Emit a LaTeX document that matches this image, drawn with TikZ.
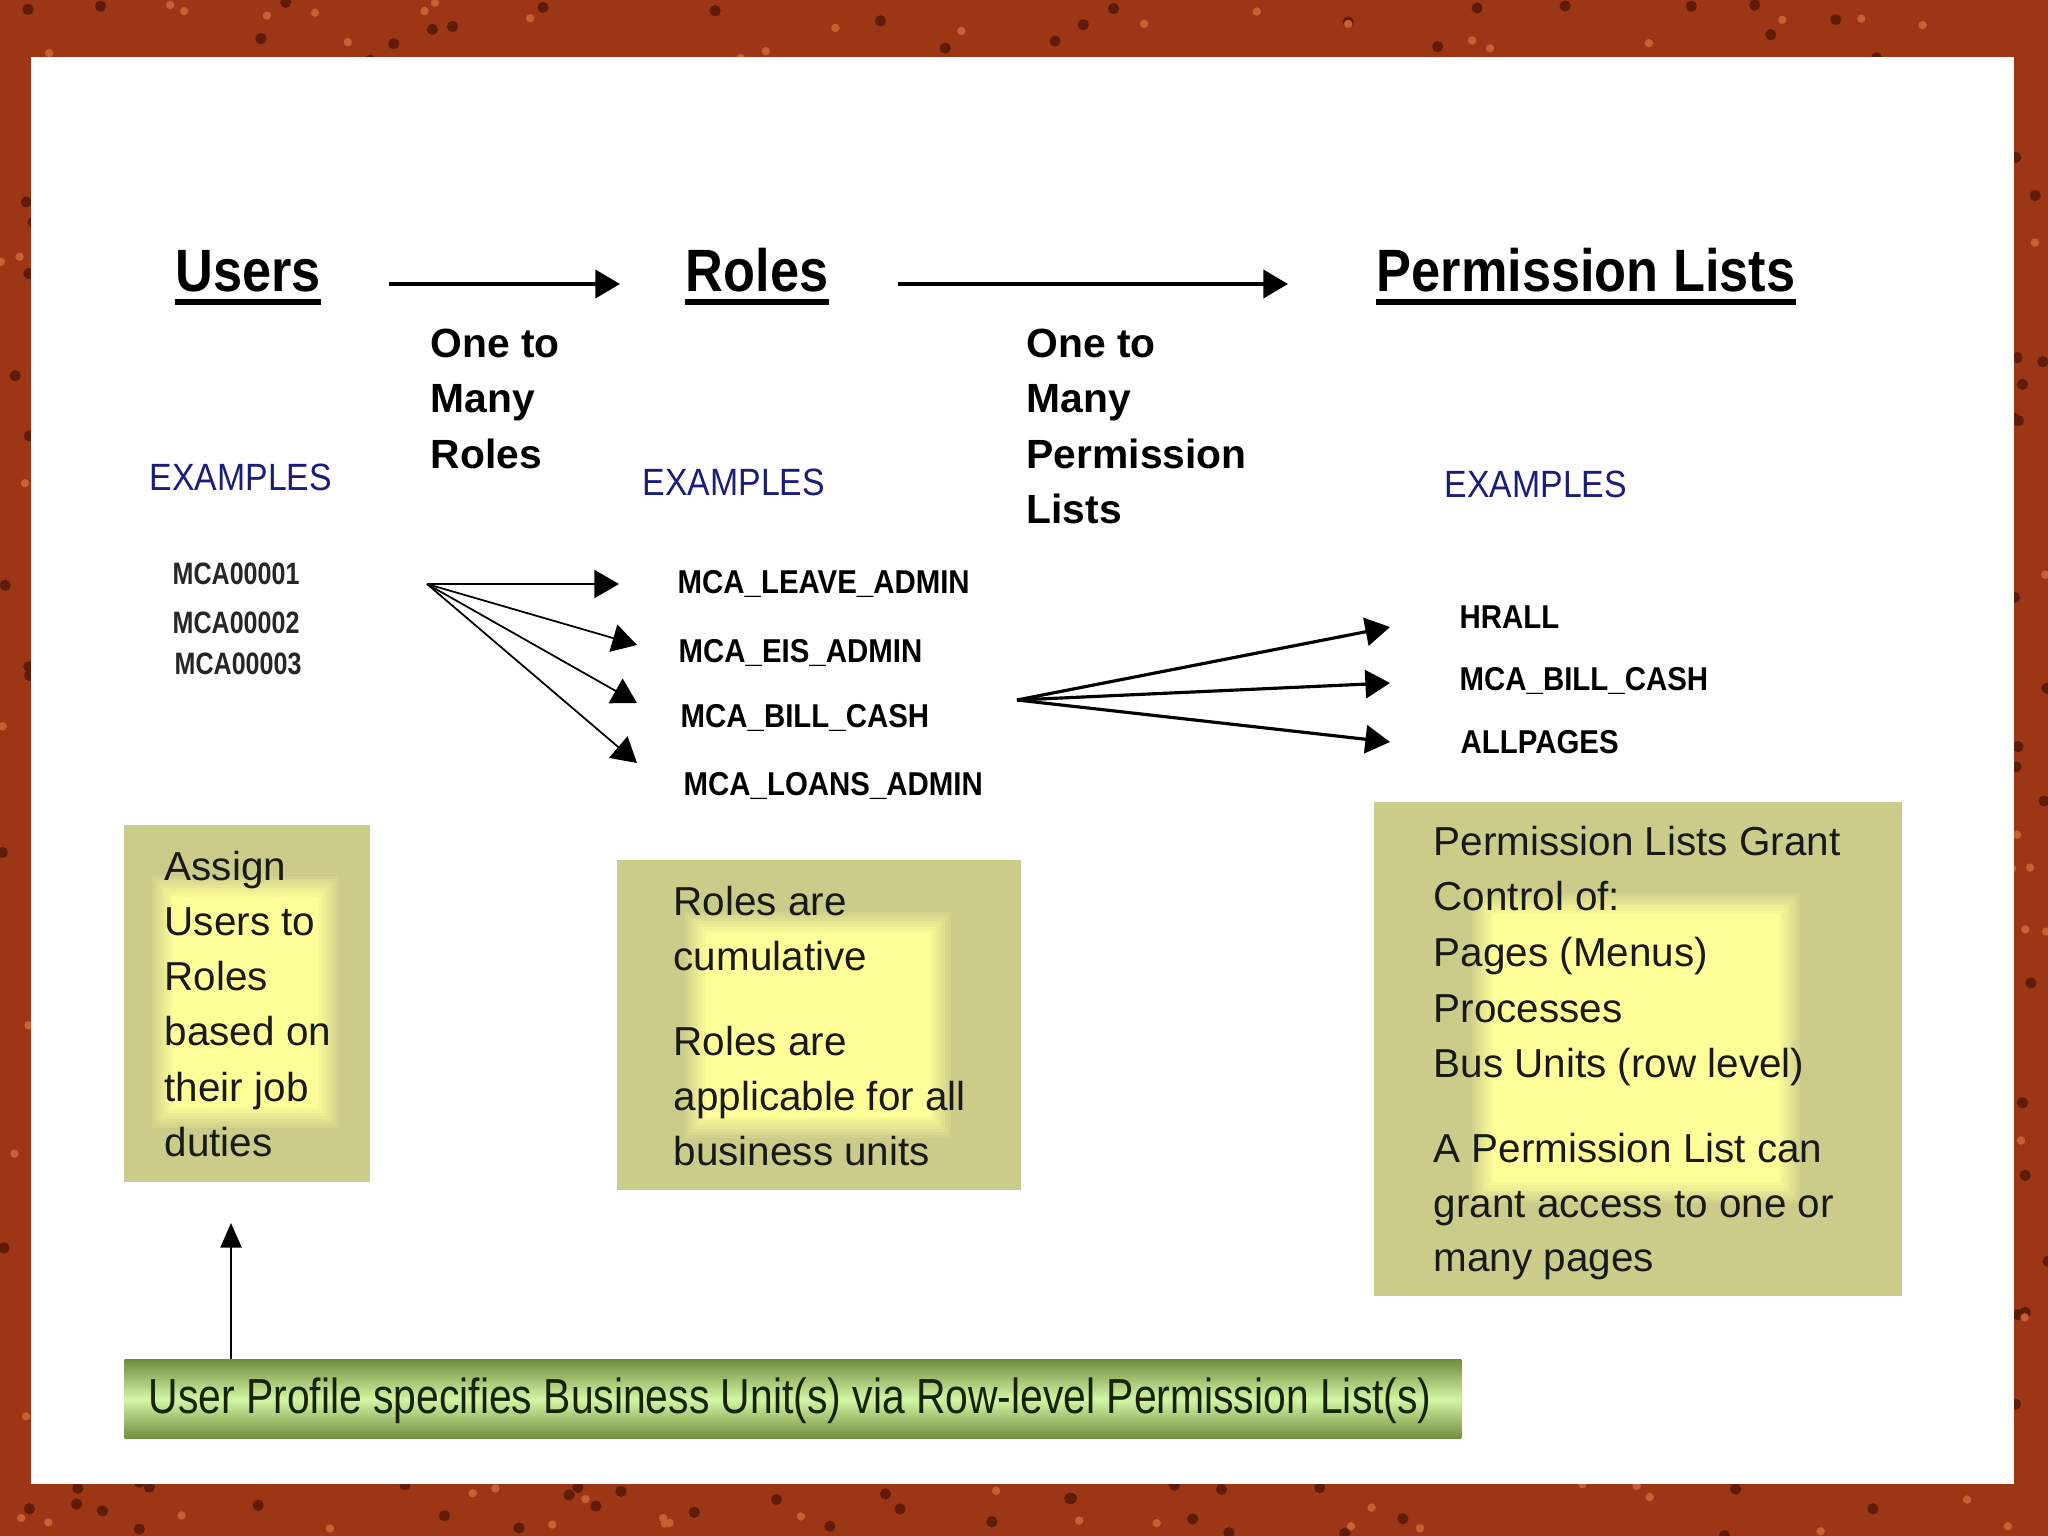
\documentclass[tikz,border=0pt]{standalone}
\usepackage{fontspec}
\setmainfont{Liberation Sans}
\newfontfamily\headfont[FakeStretch=0.875]{Liberation Sans}
\newfontfamily\exfont[FakeStretch=0.89]{Liberation Sans}
\newfontfamily\idfont[FakeStretch=0.81]{Liberation Sans}
\newfontfamily\namefont[FakeStretch=0.89]{Liberation Sans}
\newfontfamily\barfont[FakeStretch=0.83]{Liberation Sans}
\usetikzlibrary{arrows.meta, calc}

\definecolor{rust}{RGB}{156,54,20}
\definecolor{rustdark}{RGB}{96,28,10}
\definecolor{rustlight}{RGB}{200,96,52}
\definecolor{exblue}{RGB}{28,28,122}
\definecolor{boxolive}{RGB}{204,204,138}
\definecolor{boxcore}{RGB}{255,255,153}
\definecolor{bardark}{RGB}{112,140,62}
\definecolor{barlight}{RGB}{212,246,164}
\definecolor{bartextcol}{RGB}{20,35,10}

\tikzset{
  heading/.style={inner sep=0pt, anchor=base, font=\headfont\bfseries\fontsize{17}{20}\selectfont},
  uline/.style={line width=1.7pt},
  manylabel/.style={inner sep=0pt, anchor=base west, font=\bfseries\fontsize{11.6}{14}\selectfont},
  exlabel/.style={inner sep=0pt, anchor=base west, text=exblue, font=\exfont\fontsize{10.8}{13}\selectfont},
  idlabel/.style={inner sep=0pt, anchor=base west, text=black!85, font=\idfont\bfseries\fontsize{8.8}{10}\selectfont},
  namelabel/.style={inner sep=0pt, anchor=base west, font=\namefont\bfseries\fontsize{9.4}{11}\selectfont},
  boxtext/.style={inner sep=0pt, anchor=base west, text=black!90, font=\fontsize{11.5}{14}\selectfont},
  bartext/.style={inner sep=0pt, anchor=base west, text=bartextcol, font=\barfont\fontsize{14}{16}\selectfont},
  greenbar/.style={inner sep=0pt, anchor=north west, top color=bardark, bottom color=bardark, middle color=barlight},
  bigarrow/.style={->, line width=0.9pt},
  fanline/.style={->, line width=0.5pt},
  uparrow/.style={-{Triangle[length=7pt,width=6pt]}, line width=0.6pt}
}

\begin{document}
\begin{tikzpicture}[x=0.01cm, y=-0.01cm, >={Triangle[length=7pt,width=8pt]}]
  \useasboundingbox (0,0) rectangle (2048,1536);

  % rusty frame and white slide
  \fill[rust] (0,0) rectangle (2048,1536);
  \pgfmathsetseed{42}
  \foreach \k in {1,...,700}
    \fill[rustdark] ({rnd*2048},{rnd*1536}) circle[radius=1.6pt];
  \foreach \k in {1,...,500}
    \fill[rustlight] ({rnd*2048},{rnd*1536}) circle[radius=1.2pt];
  \fill[white] (31,57) rectangle (2014,1484);

  % column headings
  \node[heading] (users) at (248,291) {Users};
  \node[heading] (roles) at (757,291) {Roles};
  \node[heading] (perms) at (1586,291) {Permission Lists};
  \foreach \h in {users, roles, perms}
    \draw[uline] ($(\h.base west)+(0,11)$) -- ($(\h.base east)+(0,11)$);

  \coordinate (a1s) at (389,284);
  \coordinate (a1e) at (620,284);
  \coordinate (a2s) at (898,284);
  \coordinate (a2e) at (1288,284);
  \draw[bigarrow] (a1s) -- (a1e);
  \draw[bigarrow] (a2s) -- (a2e);

  \foreach \t [count=\i] in {One to, Many, Roles}
    \node[manylabel] (urm\i) at (430,{301.5+55.5*\i}) {\t};
  \foreach \t [count=\i] in {One to, Many, Permission, Lists}
    \node[manylabel] (rpm\i) at (1026,{301.5+55.5*\i}) {\t};

  \node[exlabel] (exusers) at (149,490) {EXAMPLES};
  \node[exlabel] (exroles) at (642,495) {EXAMPLES};
  \node[exlabel] (experms) at (1444,497) {EXAMPLES};

  % example users
  \node[idlabel] (id1) at (172,584) {MCA00001};
  \node[idlabel] (id2) at (172,633) {MCA00002};
  \node[idlabel] (id3) at (174,674) {MCA00003};

  % example roles
  \node[namelabel] (rleave) at (677,593) {MCA\_LEAVE\_ADMIN};
  \node[namelabel] (reis) at (678,662) {MCA\_EIS\_ADMIN};
  \node[namelabel] (rbill) at (680,727) {MCA\_BILL\_CASH};
  \node[namelabel] (rloans) at (683,795) {MCA\_LOANS\_ADMIN};

  \coordinate (fan1) at (427,584);
  \coordinate (leavetip) at (619,584);
  \coordinate (eistip) at (637,645);
  \coordinate (billtip) at (637,703);
  \coordinate (loanstip) at (637,763);
  \foreach \n in {leave, eis, bill, loans}
    \draw[fanline] (fan1) -- (\n tip);

  % example permission lists
  \node[namelabel] (phrall) at (1459,628) {HRALL};
  \node[namelabel] (pbill) at (1459,690) {MCA\_BILL\_CASH};
  \node[namelabel] (pall) at (1460,753) {ALLPAGES};

  \coordinate (fan2) at (1017,700);
  \coordinate (hralltip) at (1390,627);
  \coordinate (pbilltip) at (1390,683);
  \coordinate (alltip) at (1390,742);
  \foreach \n in {hrall, pbill, all}
    \draw[fanline, line width=0.9pt] (fan2) -- (\n tip);

  % note boxes, olive with a yellow glow in the middle
  \foreach \xa/\ya/\xb/\yb/\ca/\cb/\cc/\cd in
      {124/825/370/1182/173/897/318/1107,
       617/860/1021/1190/706/933/930/1117,
       1374/802/1902/1296/1493/914/1779/1182} {
    \fill[boxolive] (\xa,\ya) rectangle (\xb,\yb);
    \foreach \s [evaluate=\s as \pct using int(\s*12.5)] in {0,...,8}
      \fill[boxcore!\pct!boxolive] ({\ca-24+3*\s},{\cb-24+3*\s}) rectangle ({\cc+24-3*\s},{\cd+24-3*\s});
  }

  \foreach \t [count=\i] in {Assign, Users to, Roles, based on, their job, duties}
    \node[boxtext] (assign\i) at (164,{824.7+55.3*\i}) {\t};
  \foreach \t/\y [count=\i] in {Roles are/915, cumulative/970, Roles are/1055,
      applicable for all/1110, business units/1165}
    \node[boxtext] (cumul\i) at (673,\y) {\t};
  \foreach \t/\y [count=\i] in {Permission Lists Grant/855, Control of:/910,
      Pages (Menus)/966, Processes/1022, Bus Units (row level)/1077,
      A Permission List can/1162, grant access to one or/1217, many pages/1271}
    \node[boxtext] (grant\i) at (1433,\y) {\t};

  % user profile bar
  \node[greenbar, minimum width=13.36cm, minimum height=0.79cm] (bar) at (124,1359) {};
  \node[bartext] (profile) at (148,1413)
    {User Profile specifies Business Unit(s) via Row-level Permission List(s)};

  \coordinate (assigntip) at (231,1223);
  \draw[uparrow] (bar.north -| assigntip) -- (assigntip);
\end{tikzpicture}
\end{document}
